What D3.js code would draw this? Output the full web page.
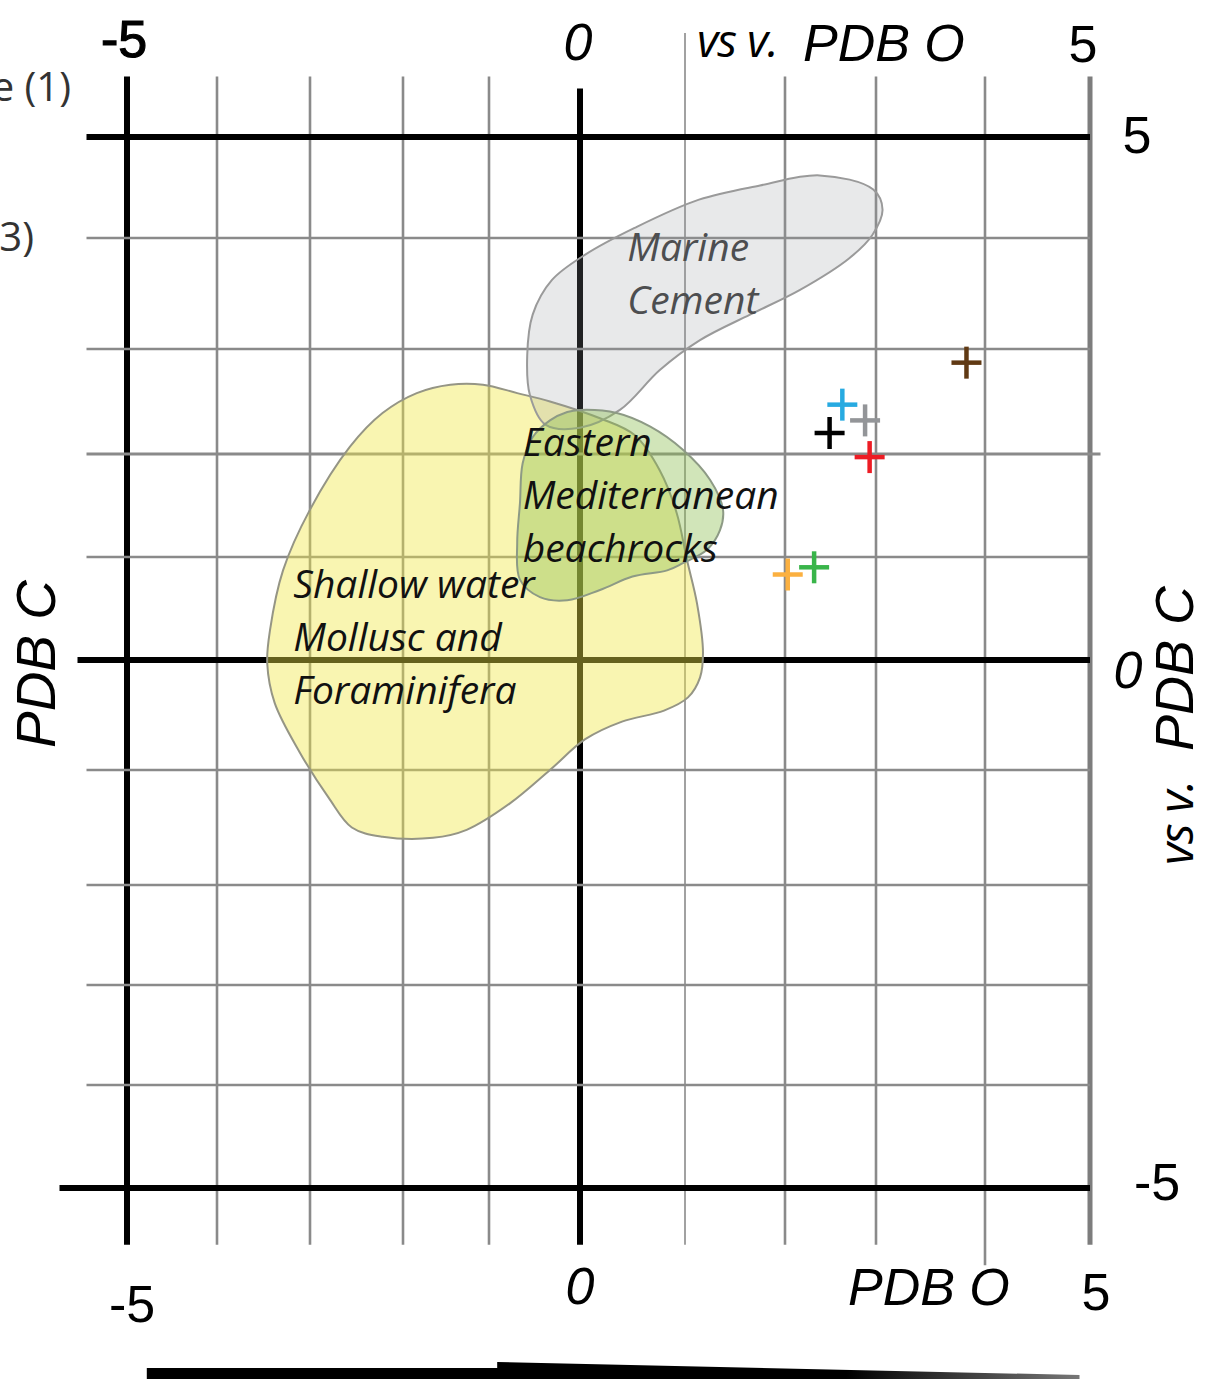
<!DOCTYPE html>
<html>
<head>
<meta charset="utf-8">
<script src="https://cdn.jsdelivr.net/npm/d3@7"></script>
<style>
  html, body { margin: 0; padding: 0; background: #fff; }
  svg { display: block; }
</style>
</head>
<body>
<svg id="chart" width="1206" height="1379"></svg>
<script>
// Grid values (per mil) on both axes
const xTicks = [-5, -4, -3, -2, -1, 0, 1, 2, 3, 4, 5];
const yTicks = [-5, -4, -3, -2, -1, 0, 1, 2, 3, 4, 5];
const labelledTicks = [-5, 0, 5];
const tickText = ["-5", "0", "5"];

// Isotope samples: d18O (x) and d13C (y)
const sampleD18O = [3.83, 2.63, 2.88, 2.49, 2.93, 2.03, 2.32];
const sampleD13C = [2.87, 2.47, 2.32, 2.20, 1.97, 0.83, 0.90];

// Field outlines in (d18O, d13C)
const shallowWaterField = [
  [-1.45, 2.66], [-1.07, 2.66], [-0.69, 2.58], [-0.33, 2.50], [0.19, 2.34],
  [0.52, 2.18], [0.76, 1.84], [0.92, 1.43], [1.02, 0.97], [1.12, 0.55],
  [1.18, 0.07], [1.15, -0.16], [1.03, -0.34], [0.80, -0.46], [0.40, -0.56],
  [0.05, -0.72], [-0.33, -1.00], [-0.77, -1.29], [-1.26, -1.52], [-1.65, -1.59],
  [-2.22, -1.58], [-2.55, -1.50], [-2.80, -1.24], [-3.11, -0.84], [-3.38, -0.39],
  [-3.46, -0.03], [-3.43, 0.29], [-3.29, 0.87], [-3.00, 1.46], [-2.57, 2.07],
  [-2.22, 2.39], [-1.84, 2.58]
];
const marineCementField = [
  [2.38, 4.62], [2.97, 4.48], [3.06, 4.28], [2.96, 4.03], [2.71, 3.82],
  [2.16, 3.53], [1.65, 3.31], [1.15, 3.08], [0.76, 2.80], [0.38, 2.42],
  [0.00, 2.25], [-0.38, 2.28], [-0.55, 2.56], [-0.58, 2.94], [-0.52, 3.31],
  [-0.31, 3.62], [0.05, 3.85], [0.52, 4.10], [1.14, 4.38], [1.75, 4.52]
];
const beachrockField = [
  [0.00, 2.42], [0.35, 2.39], [0.67, 2.26], [0.98, 2.04], [1.25, 1.75],
  [1.38, 1.46], [1.35, 1.26], [1.22, 1.07], [0.98, 0.94], [0.83, 0.87],
  [0.50, 0.81], [0.19, 0.68], [-0.14, 0.58], [-0.44, 0.61], [-0.66, 0.78],
  [-0.69, 1.14], [-0.66, 1.52], [-0.63, 1.91], [-0.52, 2.16], [-0.33, 2.32],
  [-0.14, 2.40]
];

// Field label lines
const marineCementLines = ["Marine", "Cement"];
const beachrockLines = ["Eastern", "Mediterranean", "beachrocks"];
const shallowWaterLines = ["Shallow water", "Mollusc and", "Foraminifera"];

// ---- layout & styles ----
const sampleColors = ["#603913", "#27aae1", "#939598", "#000000", "#ed1c24", "#fbb040", "#39b54a"];

const svg = d3.select("#chart");

// The hand-ruled grid is slightly uneven, so each grid value gets its own pixel stop.
const x = d3.scaleLinear().domain(xTicks)
  .range([127, 217, 310, 403, 489, 580, 685, 785, 876, 985, 1090]);
const y = d3.scaleLinear().domain(yTicks)
  .range([1188, 1085, 985, 885, 770, 660, 557, 454, 349, 238, 137]);

const grid = svg.append("g");

// vertical rules
grid.selectAll("line.v").data(xTicks).join("line")
  .attr("class", "v")
  .attr("x1", d => x(d)).attr("x2", d => x(d))
  .attr("y1", d => y(d === 1 ? 6.03 : (d === 0 ? 5.48 : 5.6)))
  .attr("y2", d => y(d === 4 ? -5.75 : -5.55))
  .attr("stroke", d => (d === -5 || d === 0) ? "#000" : (d === 5 ? "#7d7d7d" : "#8a8a8a"))
  .attr("stroke-width", d => (d === -5 || d === 0) ? 6 : (d === 5 ? 5 : (d === 1 ? 1.6 : 2.6)));

// horizontal rules
grid.selectAll("line.h").data(yTicks).join("line")
  .attr("class", "h")
  .attr("x1", d => x(d === -5 ? -5.75 : (d === 0 ? -5.55 : -5.45)))
  .attr("x2", d => x(d === 2 ? 5.1 : 5))
  .attr("y1", d => y(d)).attr("y2", d => y(d))
  .attr("stroke", d => (Math.abs(d) === 5 || d === 0) ? "#000" : "#8a8a8a")
  .attr("stroke-width", d => (Math.abs(d) === 5 || d === 0) ? 6 : (d === 2 ? 3.2 : 2.6));

// fields
const outline = d3.line()
  .x(d => x(d[0])).y(d => y(d[1]))
  .curve(d3.curveCatmullRomClosed.alpha(0.5));

const fields = svg.append("g");
fields.append("path").attr("d", outline(shallowWaterField))
  .attr("fill", "rgb(240,230,70)").attr("fill-opacity", 0.42)
  .attr("stroke", "#959585").attr("stroke-width", 2);
fields.append("path").attr("d", outline(marineCementField))
  .attr("fill", "rgb(150,155,160)").attr("fill-opacity", 0.22)
  .attr("stroke", "#9a9a9a").attr("stroke-width", 2);
fields.append("path").attr("d", outline(beachrockField))
  .attr("fill", "rgb(140,190,80)").attr("fill-opacity", 0.4)
  .attr("stroke", "#8d9a85").attr("stroke-width", 2);

// field labels
const fieldFont = "'Open Sans', 'Noto Sans', sans-serif";
function fieldLabel(lines, x0, y0, color) {
  const t = svg.append("text")
    .attr("font-family", fieldFont).attr("font-style", "italic")
    .attr("font-size", 39).attr("fill", color);
  lines.forEach((s, i) => {
    t.append("tspan").attr("x", x(x0)).attr("y", y(y0) + i * 53).text(s);
  });
}
fieldLabel(marineCementLines, 0.45, 3.79, "#4d4e50");
fieldLabel(beachrockLines, -0.63, 1.98, "#111");
fieldLabel(shallowWaterLines, -3.18, 0.6, "#111");

// sample crosses
const arm = 15;
const marks = svg.append("g").attr("stroke-width", 4.5).attr("stroke-linecap", "butt");
sampleD18O.forEach((v, i) => {
  const cx = x(v), cy = y(sampleD13C[i]);
  const g = marks.append("g").attr("stroke", sampleColors[i]);
  g.append("line").attr("x1", cx - arm).attr("x2", cx + arm).attr("y1", cy).attr("y2", cy);
  g.append("line").attr("x1", cx).attr("x2", cx).attr("y1", cy - arm - 1).attr("y2", cy + arm + 1);
});

// axis numbers
const numFont = "'Liberation Sans', Arial, sans-serif";
const labels = svg.append("g").attr("font-family", numFont).attr("fill", "#000")
  .attr("text-anchor", "middle");

// top
labelledTicks.forEach((v, i) => {
  labels.append("text")
    .attr("x", x(v) + (v === -5 ? -3 : (v === 0 ? -2 : -7)))
    .attr("y", v === 5 ? 62 : (v === 0 ? 60 : 57))
    .attr("font-size", 52).attr("font-style", v === 0 ? "italic" : "normal")
    .attr("stroke", v === -5 ? "#000" : "none").attr("stroke-width", 1.2)
    .text(tickText[i]);
});
// bottom
labelledTicks.forEach((v, i) => {
  labels.append("text")
    .attr("x", x(v) + (v === -5 ? 5 : (v === 0 ? 0 : 6)))
    .attr("y", v === -5 ? 1322 : (v === 0 ? 1304 : 1310))
    .attr("font-size", 52).attr("font-style", v === 0 ? "italic" : "normal")
    .text(tickText[i]);
});
// right
labelledTicks.forEach((v, i) => {
  labels.append("text")
    .attr("x", v === -5 ? 1157 : (v === 0 ? 1128 : 1137))
    .attr("y", y(v) + (v === -5 ? 12 : (v === 0 ? 28 : 16)))
    .attr("font-size", 52).attr("font-style", v === 0 ? "italic" : "normal")
    .text(tickText[i]);
});

// axis titles
const softFont = "'Open Sans', 'Noto Sans', sans-serif";
svg.append("text").attr("x", 697).attr("y", 57)
  .attr("font-family", softFont).attr("font-style", "italic")
  .attr("font-size", 46).attr("letter-spacing", -1).text("vs v.");
svg.append("text").attr("x", 803).attr("y", 61)
  .attr("font-family", numFont).attr("font-style", "italic")
  .attr("font-size", 52).text("PDB O");

svg.append("text").attr("x", 848).attr("y", 1305)
  .attr("font-family", numFont).attr("font-style", "italic").attr("font-size", 52)
  .text("PDB O");

svg.append("text").attr("transform", "translate(55,664) rotate(-90)")
  .attr("text-anchor", "middle")
  .attr("font-family", numFont).attr("font-style", "italic").attr("font-size", 55)
  .text("PDB C");

// right-hand title, read bottom to top
svg.append("text").attr("transform", "translate(1193,865) rotate(-90)")
  .attr("font-family", softFont).attr("font-style", "italic")
  .attr("font-size", 48).attr("letter-spacing", -1).text("vs v.");
svg.append("text").attr("transform", "translate(1193,751) rotate(-90)")
  .attr("font-family", numFont).attr("font-style", "italic")
  .attr("font-size", 54).text("PDB C");

// legend fragments at the left edge
const legendFont = "'Open Sans', 'Noto Sans', sans-serif";
svg.append("text").attr("x", 71).attr("y", 101).attr("text-anchor", "end")
  .attr("font-family", legendFont).attr("font-size", 40).attr("fill", "#333")
  .text("e (1)");
svg.append("text").attr("x", 34).attr("y", 251).attr("text-anchor", "end")
  .attr("font-family", legendFont).attr("font-size", 40).attr("fill", "#333")
  .text("(3)");

// tapering bar under the x axis
const defs = svg.append("defs");
const grad = defs.append("linearGradient").attr("id", "taper")
  .attr("x1", "0%").attr("x2", "100%").attr("y1", "0%").attr("y2", "0%");
grad.append("stop").attr("offset", "0%").attr("stop-color", "#000");
grad.append("stop").attr("offset", "75%").attr("stop-color", "#000");
grad.append("stop").attr("offset", "100%").attr("stop-color", "#777");

const taper = d3.path();
taper.moveTo(x(-4.78), 1368);
taper.lineTo(x(-0.91), 1368);
taper.lineTo(x(-0.91), 1362);
taper.lineTo(x(4.9), 1375);
taper.lineTo(x(4.9), 1380);
taper.lineTo(x(-4.78), 1380);
taper.closePath();
svg.append("path").attr("d", taper.toString()).attr("fill", "url(#taper)");
</script>
</body>
</html>
